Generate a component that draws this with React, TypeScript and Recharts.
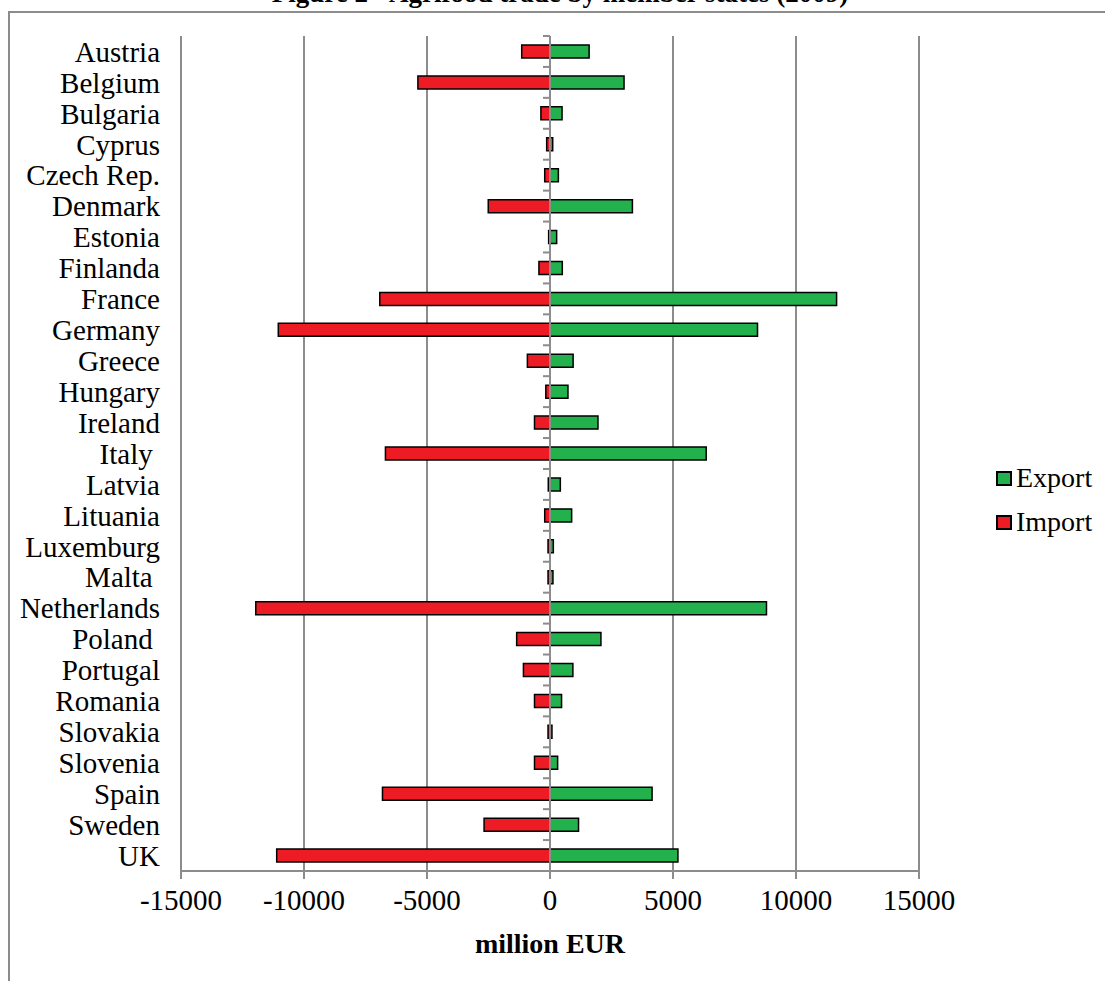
import React from 'react';
import { BarChart, Bar, XAxis, YAxis, CartesianGrid, Legend, ReferenceLine } from 'recharts';

// agrifood trade by member state, 2009 (million EUR)
const countries = [
  'Austria', 'Belgium', 'Bulgaria', 'Cyprus', 'Czech Rep.', 'Denmark', 'Estonia', 'Finlanda',
  'France', 'Germany', 'Greece', 'Hungary', 'Ireland', 'Italy\u00a0', 'Latvia', 'Lituania',
  'Luxemburg', 'Malta\u00a0', 'Netherlands', 'Poland\u00a0', 'Portugal', 'Romania', 'Slovakia',
  'Slovenia', 'Spain', 'Sweden', 'UK',
];
const exportValues = [
  1590, 3010, 490, 110, 340, 3350, 270, 500, 11650, 8435, 940, 730, 1950, 6350, 420, 880,
  135, 120, 8800, 2070, 930, 470, 80, 310, 4150, 1160, 5200,
];
const importValues = [
  -1150, -5370, -370, -135, -215, -2510, -55, -450, -6920, -11045, -920, -170, -630, -6690, -70, -215,
  -80, -80, -11960, -1355, -1080, -630, -80, -630, -6810, -2680, -11110,
];
const xTicks = [-15000, -10000, -5000, 0, 5000, 10000, 15000];

const data = countries.map((name, i) => ({ name, Export: exportValues[i], Import: importValues[i] }));

const FONT = '"Liberation Serif", "Times New Roman", serif';
const GRAY = '#8c8c8c';
const GREEN = '#22b14c';
const RED = '#ed1c24';

function ZeroLine(props: any) {
  const { x1, y1, x2, y2 } = props;
  const n = countries.length;
  const marks = [];
  for (let i = 0; i <= n; i++) {
    const y = y1 + ((y2 - y1) * i) / n;
    marks.push(<line key={i} x1={x1 - 7} x2={x1} y1={y} y2={y} stroke={GRAY} strokeWidth={2} />);
  }
  return (
    <g>
      <line x1={x1} y1={y1} x2={x2} y2={y2} stroke={GRAY} strokeWidth={2} />
      {marks}
    </g>
  );
}

function LegendBox() {
  const items = [
    { label: 'Export', color: GREEN },
    { label: 'Import', color: RED },
  ];
  return (
    <div style={{ fontFamily: FONT, fontSize: 28 }}>
      {items.map((it) => (
        <div key={it.label} style={{ display: 'flex', alignItems: 'center', height: 44 }}>
          <span
            style={{
              display: 'inline-block',
              width: 12,
              height: 11,
              background: it.color,
              border: '2px solid #000',
              marginRight: 4,
            }}
          />
          <span>{it.label}</span>
        </div>
      ))}
    </div>
  );
}

export default function App() {
  return (
    <div style={{ position: 'absolute', left: 0, top: 0, width: 1105, height: 981, overflow: 'hidden', background: '#fff' }}>
      <div
        style={{
          position: 'absolute',
          left: 8,
          top: 11,
          width: 1200,
          height: 1100,
          borderTop: `2px solid ${GRAY}`,
          borderLeft: `2px solid ${GRAY}`,
        }}
      />
      <div
        style={{
          position: 'absolute',
          left: 0,
          width: 1120,
          top: -20,
          textAlign: 'center',
          fontFamily: FONT,
          fontWeight: 'bold',
          fontSize: 27,
          lineHeight: '27px',
        }}
      >
        Figure 2 - Agrifood trade by member states (2009)
      </div>
      <div style={{ position: 'absolute', left: 0, top: 0 }}>
        <BarChart
          width={1105}
          height={981}
          data={data}
          layout="vertical"
          stackOffset="sign"
          margin={{ top: 36, right: 186, bottom: 0, left: 0 }}
        >
          <CartesianGrid horizontal={false} stroke={GRAY} strokeWidth={2} />
          <XAxis
            type="number"
            domain={[-15000, 15000]}
            ticks={xTicks}
            interval={0}
            height={110}
            axisLine={{ stroke: GRAY, strokeWidth: 2 }}
            tickLine={{ stroke: GRAY, strokeWidth: 2 }}
            tickSize={8}
            tickMargin={10}
            tick={{ fill: '#000', fontSize: 29, fontFamily: FONT }}
            label={{
              value: 'million EUR',
              position: 'insideBottom',
              offset: 28,
              fill: '#000',
              fontSize: 28,
              fontWeight: 'bold',
              fontFamily: FONT,
            }}
          />
          <YAxis
            type="category"
            dataKey="name"
            width={181}
            axisLine={false}
            tickLine={false}
            tickSize={6}
            tickMargin={15}
            interval={0}
            tick={{ fill: '#000', fontSize: 29, fontFamily: FONT }}
          />
          <Legend
            layout="vertical"
            align="center"
            verticalAlign="middle"
            wrapperStyle={{ left: 996, top: 456, width: 109 }}
            content={() => <LegendBox />}
          />
          <Bar dataKey="Export" stackId="t" fill={GREEN} stroke="#000" strokeWidth={1.5} barSize={13} isAnimationActive={false} />
          <Bar dataKey="Import" stackId="t" fill={RED} stroke="#000" strokeWidth={1.5} barSize={13} isAnimationActive={false} />
          <ReferenceLine x={0} shape={ZeroLine} />
        </BarChart>
      </div>
    </div>
  );
}
